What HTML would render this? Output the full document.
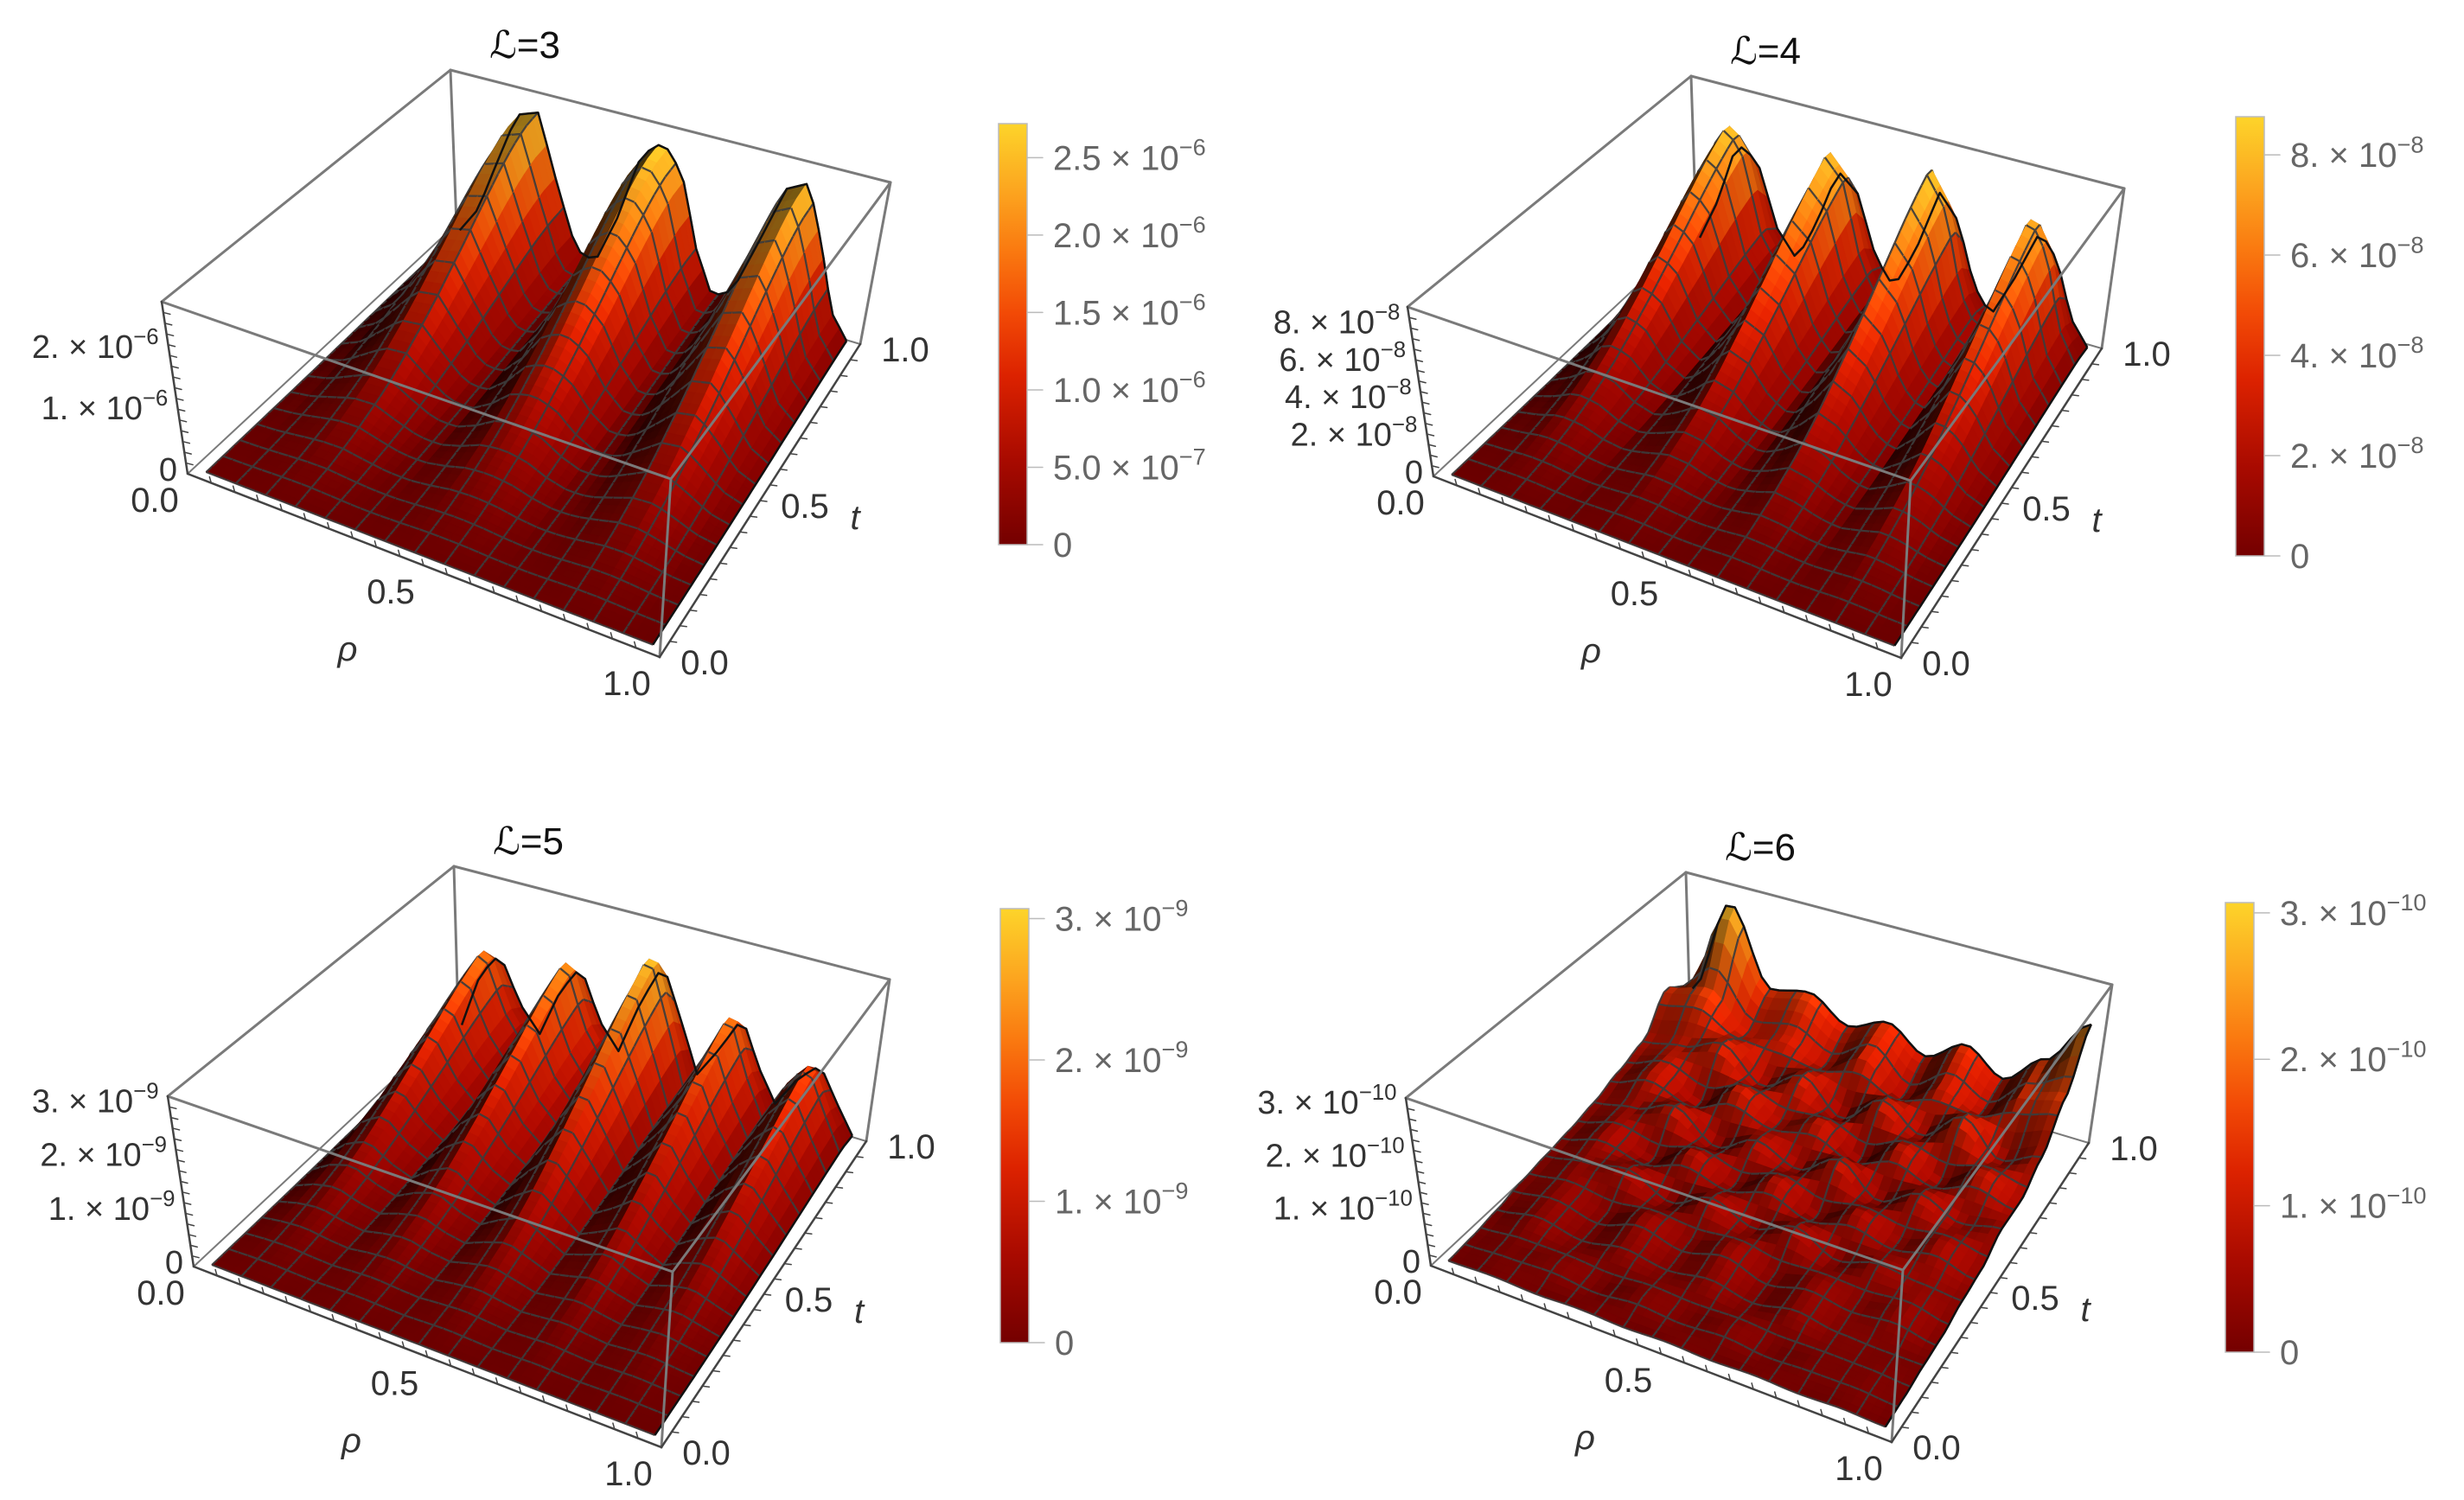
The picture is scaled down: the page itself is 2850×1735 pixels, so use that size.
<!DOCTYPE html>
<html><head><meta charset="utf-8"><title>Surface plots L=3..6</title>
<style>html,body{margin:0;padding:0;background:#fff;}svg{display:block;}</style></head>
<body>
<svg id="fig" xmlns="http://www.w3.org/2000/svg" width="2850" height="1735" viewBox="0 0 2850 1735">
<rect x="0" y="0" width="2850" height="1735" fill="#fff"/>
<defs>
<linearGradient id="cmap" x1="0" y1="1" x2="0" y2="0">
<stop offset="0" stop-color="#740000"/><stop offset="0.2" stop-color="#a80a00"/><stop offset="0.4" stop-color="#dc2200"/><stop offset="0.55" stop-color="#f24a06"/><stop offset="0.7" stop-color="#fa7a10"/><stop offset="0.85" stop-color="#fca820"/><stop offset="1" stop-color="#fdd42a"/>
</linearGradient>
</defs>
</svg>
<script>
// ---------- data ----------
const rhoProfile3 = [0.02,0.2,0.55,0.9,0.95,0.5,0.12,0.08,0.4,0.85,0.97,0.8,0.35,0.08,0.15,0.5,0.88,0.95,0.6,0.2,0.05];
const tProfile3 = [0,0.01,0.02,0.03,0.05,0.07,0.1,0.13,0.17,0.22,0.28,0.34,0.41,0.49,0.57,0.66,0.75,0.84,0.92,0.98,1.0];
const zMax3 = 2.72e-6;
const rhoProfile4 = [0.02,0.4,0.95,0.85,0.3,0.08,0.45,0.95,0.8,0.3,0.08,0.45,1.0,0.8,0.3,0.08,0.45,0.9,0.7,0.25,0.05];
const tProfile4 = [0,0.01,0.02,0.03,0.05,0.07,0.1,0.13,0.17,0.22,0.28,0.35,0.42,0.5,0.58,0.67,0.76,0.85,0.93,1.0,0.75];
const zMax4 = 8.76e-8;
const rhoProfile5 = [0.03,0.5,0.72,0.35,0.15,0.55,0.8,0.4,0.2,0.65,1.0,0.6,0.2,0.45,0.75,0.4,0.15,0.4,0.55,0.3,0.08];
const tProfile5 = [0,0.01,0.02,0.03,0.05,0.07,0.1,0.13,0.17,0.22,0.28,0.35,0.42,0.5,0.58,0.67,0.76,0.85,0.93,1.0,0.8];
const zMax5 = 3.07e-9;
const grid6 = [
 [0.02,0.03,0.02,0.03,0.02,0.03,0.02,0.03,0.02,0.03,0.02],
 [0.03,0.05,0.07,0.03,0.07,0.04,0.07,0.03,0.05,0.05,0.03],
 [0.05,0.1,0.05,0.1,0.06,0.1,0.05,0.1,0.06,0.05,0.05],
 [0.08,0.12,0.06,0.15,0.08,0.15,0.06,0.12,0.08,0.12,0.06],
 [0.1,0.15,0.2,0.08,0.2,0.1,0.2,0.08,0.15,0.12,0.1],
 [0.12,0.2,0.1,0.25,0.12,0.25,0.1,0.22,0.12,0.2,0.12],
 [0.15,0.2,0.3,0.12,0.25,0.15,0.3,0.12,0.25,0.15,0.2],
 [0.2,0.3,0.15,0.35,0.2,0.3,0.12,0.3,0.15,0.3,0.2],
 [0.25,0.3,0.4,0.2,0.35,0.15,0.35,0.2,0.4,0.2,0.3],
 [0.45,0.5,0.3,0.35,0.25,0.4,0.2,0.35,0.25,0.45,0.5],
 [0.3,0.95,0.45,0.5,0.35,0.45,0.3,0.45,0.3,0.5,0.8]];
const zMax6 = 3.07e-10;

const titles = ["\u2112=3","\u2112=4","\u2112=5","\u2112=6"];
const zTickVals3 = [0,1e-6,2e-6];       const zTickLab3 = [["0",""],["1.","\u22126"],["2.","\u22126"]];
const zTickVals4 = [0,2e-8,4e-8,6e-8,8e-8]; const zTickLab4 = [["0",""],["2.","\u22128"],["4.","\u22128"],["6.","\u22128"],["8.","\u22128"]];
const zTickVals5 = [0,1e-9,2e-9,3e-9];  const zTickLab5 = [["0",""],["1.","\u22129"],["2.","\u22129"],["3.","\u22129"]];
const zTickVals6 = [0,1e-10,2e-10,3e-10]; const zTickLab6 = [["0",""],["1.","\u221210"],["2.","\u221210"],["3.","\u221210"]];
const cbVals3 = [0,5e-7,1e-6,1.5e-6,2e-6,2.5e-6]; const cbLab3 = [["0",""],["5.0","\u22127"],["1.0","\u22126"],["1.5","\u22126"],["2.0","\u22126"],["2.5","\u22126"]];
const cbVals4 = [0,2e-8,4e-8,6e-8,8e-8]; const cbLab4 = zTickLab4;
const cbVals5 = [0,1e-9,2e-9,3e-9]; const cbLab5 = zTickLab5;
const cbVals6 = [0,1e-10,2e-10,3e-10]; const cbLab6 = zTickLab6;
const axisTicks = [0,0.5,1.0];
const axisTickLab = ["0.0","0.5","1.0"];

// ---------- geometry ----------
const panels = [
 {base:[[217,548],[763,760],[528,259],[995,398]], top:[[187,349],[776,554],[521,81],[1030,211]], cb:{x:1155,w:33,y0:630,y1:143}},
 {base:[[1658,551],[2199,761],[1962,267],[2431,403]], top:[[1628,355],[2210,556],[1956,88],[2457,218]], cb:{x:2586,w:33,y0:643,y1:135}},
 {base:[[224,1465],[765,1674],[530,1179],[1002,1320]], top:[[194,1268],[778,1471],[525,1002],[1029,1133]], cb:{x:1157,w:33,y0:1553,y1:1051}},
 {base:[[1655,1464],[2188,1668],[1955,1184],[2416,1322]], top:[[1626,1270],[2201,1469],[1950,1009],[2443,1139]], cb:{x:2574,w:33,y0:1564,y1:1044}}
];
const data = [
 {rho:rhoProfile3,t:tProfile3,zmax:zMax3,zv:zTickVals3,zl:zTickLab3,cv:cbVals3,cl:cbLab3},
 {rho:rhoProfile4,t:tProfile4,zmax:zMax4,zv:zTickVals4,zl:zTickLab4,cv:cbVals4,cl:cbLab4},
 {rho:rhoProfile5,t:tProfile5,zmax:zMax5,zv:zTickVals5,zl:zTickLab5,cv:cbVals5,cl:cbLab5},
 {grid:grid6,zmax:zMax6,zv:zTickVals6,zl:zTickLab6,cv:cbVals6,cl:cbLab6}
];

const NS = "http://www.w3.org/2000/svg";
const svg = document.getElementById('fig');
function mk(tag, attrs, parent){ const e=document.createElementNS(NS,tag); for(const k in attrs) e.setAttribute(k,attrs[k]); (parent||svg).appendChild(e); return e; }

function bil(c,r,t){ return [ (1-r)*(1-t)*c[0][0]+r*(1-t)*c[1][0]+(1-r)*t*c[2][0]+r*t*c[3][0],
                              (1-r)*(1-t)*c[0][1]+r*(1-t)*c[1][1]+(1-r)*t*c[2][1]+r*t*c[3][1] ]; }
function proj(p,r,t,z){ const b=bil(p.base,r,t), u=bil(p.top,r,t); return [b[0]+z*(u[0]-b[0]), b[1]+z*(u[1]-b[1])]; }
function interp1(a,x){ const n=a.length-1; const f=Math.min(Math.max(x,0),1)*n; const i=Math.min(Math.floor(f),n-1); const w=f-i; return a[i]*(1-w)+a[i+1]*w; }
function interp2(g,r,t){ const n=g.length-1, m=g[0].length-1; const ft=Math.min(Math.max(t,0),1)*n, fr=Math.min(Math.max(r,0),1)*m;
  const i=Math.min(Math.floor(ft),n-1), j=Math.min(Math.floor(fr),m-1); let a=ft-i, b=fr-j;
  a=a*a*(3-2*a); b=b*b*(3-2*b);
  return g[i][j]*(1-a)*(1-b)+g[i][j+1]*(1-a)*b+g[i+1][j]*a*(1-b)+g[i+1][j+1]*a*b; }
function valueN(d,r,t){ return d.grid ? interp2(d.grid,r,t) : interp1(d.rho,r)*interp1(d.t,t); }

const cstops=[[0,[116,0,0]],[0.2,[168,10,0]],[0.4,[220,34,0]],[0.55,[242,74,6]],[0.7,[250,122,16]],[0.85,[252,168,32]],[1,[253,212,42]]];
function cmap(v){ v=Math.max(0,Math.min(1,v)); for(let i=0;i<cstops.length-1;i++){ const a=cstops[i],b=cstops[i+1]; if(v<=b[0]){ const w=(v-a[0])/(b[0]-a[0]); return [0,1,2].map(k=>a[1][k]+w*(b[1][k]-a[1][k])); } } return cstops[cstops.length-1][1]; }
function rgb(c,s){ return 'rgb('+c.map(x=>Math.max(0,Math.min(255,Math.round(x*s)))).join(',')+')'; }
function pts(a){ return a.map(p=>p[0].toFixed(1)+','+p[1].toFixed(1)).join(' '); }

function supText(parent,x,y,mant,exp,size,anchor,color,name){
  const t=mk('text',{x:x,y:y,'font-family':'"Liberation Sans", sans-serif','font-size':size,fill:color,'text-anchor':anchor},parent);
  
  
  if(exp===""){ t.textContent=mant; return t; }
  t.appendChild(document.createTextNode(mant+' \u00d7 10'));
  const s=document.createElementNS(NS,'tspan'); s.setAttribute('dy',-size*0.42); s.setAttribute('font-size',size*0.68); s.textContent=exp; t.appendChild(s);
  return t;
}

const N=45, MESH=3, PAD=0.025, ZS=0.97;
const L=(function(){const v=[0.6,-0.2,0.75];const m=Math.hypot(...v);return v.map(x=>x/m);})();

panels.forEach((p,pi)=>{
  const d=data[pi];
  const g=mk('g',{});
  
  
  const B=(r,t)=>proj(p,r,t,0), T=(r,t)=>proj(p,r,t,1);
  const line=(a,b,stroke,w,name)=>{ const l=mk('line',{x1:a[0],y1:a[1],x2:b[0],y2:b[1],stroke:stroke,'stroke-width':w,'stroke-linecap':'round'},g);
    
     return l; };
  const boxc='#7a7a7a';
  line(T(0,1),T(1,1),boxc,3,'box-edge');
  line(T(0,0),T(0,1),boxc,3,'box-edge');
  line(B(0,1),T(0,1),boxc,3,'box-edge');
  line(B(0,0),B(0,1),boxc,2,'box-edge');
  line(B(0,1),B(1,1),boxc,2,'box-edge');
  const V=[], Pn=[];
  for(let i=0;i<=N;i++){ V.push([]); Pn.push([]);
    for(let j=0;j<=N;j++){ const r=j/N, t=i/N; const v=valueN(d,r,t); V[i].push(v);
      Pn[i].push(proj(p,PAD+r*(1-2*PAD),PAD+t*(1-2*PAD),v*ZS)); } }
  const cells=[];
  for(let i=0;i<N;i++) for(let j=0;j<N;j++) cells.push([i,j]);
  cells.sort((a,b)=>(b[0]-b[1])-(a[0]-a[1]));
  const sg=mk('g',{},g);
  
  
  cells.forEach(([i,j])=>{
    const v=(V[i][j]+V[i+1][j]+V[i][j+1]+V[i+1][j+1])/4;
    const dzdr=((V[i][j+1]+V[i+1][j+1])-(V[i][j]+V[i+1][j]))/2*N*0.6;
    const dzdt=((V[i+1][j]+V[i+1][j+1])-(V[i][j]+V[i][j+1]))/2*N*0.6;
    const nm=Math.hypot(dzdr,dzdt,1); const dot=(-dzdr*L[0]-dzdt*L[1]+L[2])/nm;
    const s=Math.min(1.12,0.28+0.84*Math.max(0,dot));
    const col=rgb(cmap(v),s);
    const poly=mk('polygon',{points:pts([Pn[i][j],Pn[i][j+1],Pn[i+1][j+1],Pn[i+1][j]]),fill:col,stroke:col,'stroke-width':0.9,'stroke-linejoin':'round'},sg);
    
    
    let dd='';
    if(j%MESH===0) dd+='M'+pts([Pn[i][j]])+'L'+pts([Pn[i+1][j]]);
    if((j+1)%MESH===0) dd+='M'+pts([Pn[i][j+1]])+'L'+pts([Pn[i+1][j+1]]);
    if(i%MESH===0) dd+='M'+pts([Pn[i][j]])+'L'+pts([Pn[i][j+1]]);
    if((i+1)%MESH===0) dd+='M'+pts([Pn[i+1][j]])+'L'+pts([Pn[i+1][j+1]]);
    if(dd){ const m=mk('path',{d:dd,stroke:'#3c3c3c','stroke-width':2.2,fill:'none','stroke-opacity':0.9},sg);
      
       }
  });
  const bd=[]; for(let j=0;j<=N;j++) bd.push(Pn[N][j]);
  const bdl=mk('polyline',{points:pts(bd),fill:'none',stroke:'#111','stroke-width':2.5,'stroke-linejoin':'round'},g);
  
  
  const bd2=[]; for(let i=0;i<=N;i++) bd2.push(Pn[i][N]);
  const bdl2=mk('polyline',{points:pts(bd2),fill:'none',stroke:'#111','stroke-width':2.5},g);
  
  
  line(T(0,0),T(1,0),boxc,3,'box-edge');
  line(T(1,0),T(1,1),boxc,3,'box-edge');
  line(B(1,1),T(1,1),boxc,3,'box-edge');
  line(B(1,0),T(1,0),boxc,3,'box-edge');
  line(B(0,0),T(0,0),'#444',2.5,'z-axis-line');
  line(B(0,0),B(1,0),'#444',2.5,'rho-axis-line');
  line(B(1,0),B(1,1),'#444',2.5,'t-axis-line');
  for(let k=1;k<20;k++){ const a=B(k/20,0); line(a,[a[0]-2,a[1]-7],'#444',1.5,'rho-tick');
    const b=B(1,k/20); line(b,[b[0]+8,b[1]+1],'#444',1.5,'t-tick'); }
  for(let k=1;k<16;k++){ const z=k/16; const a=proj(p,0,0,z); line(a,[a[0]+8,a[1]+2],'#444',1.5,'z-tick'); }
  const font='"Liberation Sans", sans-serif';
  const txt=(x,y,s,size,anchor,color,name,style)=>{ const t=mk('text',{x:x,y:y,'font-family':font,'font-size':size,fill:color,'text-anchor':anchor},g);
    if(style) t.setAttribute('font-style',style);
    
    
    t.textContent=s; return t; };
  const tp=T(0,1); txt(tp[0]+86,tp[1]-14,titles[pi],44,'middle','#111','plot-title');
  axisTicks.forEach((v,k)=>{ const a=B(v,0); txt(a[0]-38,a[1]+44,axisTickLab[k],40,'middle','#333','rho-tick-label');
    const b=B(1,v); txt(b[0]+52,b[1]+20,axisTickLab[k],40,'middle','#333','t-tick-label'); });
  const rp=B(0.5,0); txt(rp[0]-88,rp[1]+110,'\u03c1',40,'middle','#333','rho-axis-title','italic');
  const tq=B(1,0.5); txt(tq[0]+110,tq[1]+33,'t',40,'middle','#333','t-axis-title','italic');
  d.zv.forEach((v,k)=>{ const a=proj(p,0,0,v/d.zmax*ZS); supText(g,a[0]-12,a[1]+8,d.zl[k][0],d.zl[k][1],38,'end','#333','z-tick-label'); });
  const cb=p.cb;
  const bar=mk('rect',{x:cb.x,y:cb.y1,width:cb.w,height:cb.y0-cb.y1,fill:'url(#cmap)',stroke:'#bbb','stroke-width':1.5},g);
  
  
  d.cv.forEach((v,k)=>{ const y=cb.y0-(v/d.zmax)*(cb.y0-cb.y1);
    line([cb.x+cb.w,y],[cb.x+cb.w+18,y],'#bbb',1.5,'colorbar-tick');
    supText(g,cb.x+cb.w+30,y+14,d.cl[k][0],d.cl[k][1],40,'start','#666','colorbar-label'); });
});
</script>
</body></html>
